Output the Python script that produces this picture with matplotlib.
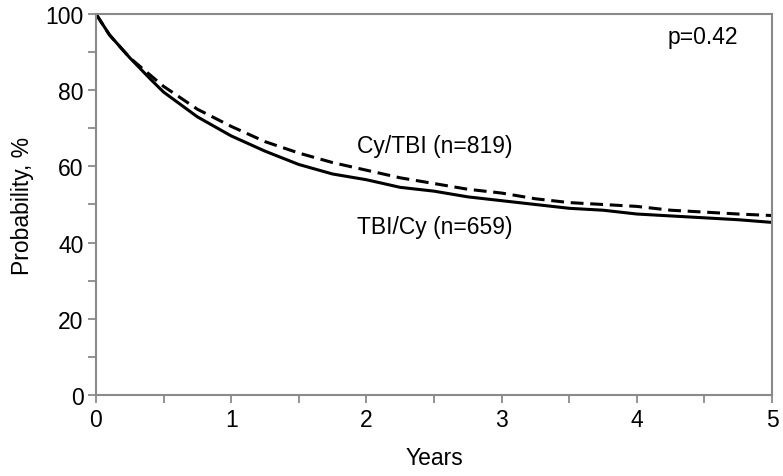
import matplotlib
matplotlib.use("Agg")
import matplotlib.pyplot as plt

plt.rcParams['font.family'] = ['Liberation Sans', 'DejaVu Sans']

# Kaplan-Meier style curves
years = [0, 0.1, 0.25, 0.4, 0.5, 0.75, 1.0, 1.25, 1.5, 1.75, 2.0, 2.25, 2.5,
         2.75, 3.0, 3.25, 3.5, 3.75, 4.0, 4.25, 4.5, 4.75, 5.0]
tbi_cy = [100, 94.5, 88.5, 83.0, 79.5, 73.0, 68.0, 64.0, 60.5, 58.0, 56.5, 54.5, 53.5,
          52.0, 51.0, 50.0, 49.0, 48.5, 47.5, 47.0, 46.5, 46.0, 45.3]
cy_tbi = [100, 94.5, 88.5, 84.0, 81.0, 75.0, 70.5, 66.5, 63.5, 61.0, 59.0, 57.0, 55.5,
          54.0, 53.0, 51.5, 50.5, 50.0, 49.5, 48.5, 48.0, 47.5, 47.1]

FS = 16.5

fig = plt.figure(figsize=(7.83, 4.77), dpi=100)
ax = fig.add_axes([0.1226, 0.1698, 0.8634, 0.7988])

ax.plot(years, cy_tbi, color='black', linewidth=2.2, linestyle=(0, (4.2, 2.2)))
ax.plot(years, tbi_cy, color='black', linewidth=2.2, linestyle='-')

ax.set_xlim(0, 5)
ax.set_ylim(0, 100)
ax.set_xticks([0, 1, 2, 3, 4, 5])
ax.set_xticks([0.5, 1.5, 2.5, 3.5, 4.5], minor=True)
ax.set_yticks([0, 20, 40, 60, 80, 100])
ax.set_yticks([10, 30, 50, 70, 90], minor=True)

for s in ax.spines.values():
    s.set_color('#8a8a8a')
    s.set_linewidth(1.5)
ax.tick_params(which='both', direction='out', color='#8a8a8a', width=1.3,
               length=6, labelsize=FS, pad=3)

ax.text(4.23, 94.0, 'p=0.42', fontsize=FS, va='center', ha='left')
ax.text(1.93, 65.4, 'Cy/TBI (n=819)', fontsize=FS, va='center', ha='left')
ax.text(1.93, 44.1, 'TBI/Cy (n=659)', fontsize=FS, va='center', ha='left')

ax.set_xlabel('Years', fontsize=FS, va='center')
ax.xaxis.set_label_coords(0.5, -0.165)
ax.set_ylabel('Probability, %', fontsize=FS, va='center')
ax.yaxis.set_label_coords(-0.109, 0.5)

fig.savefig('out.png', dpi=100)
